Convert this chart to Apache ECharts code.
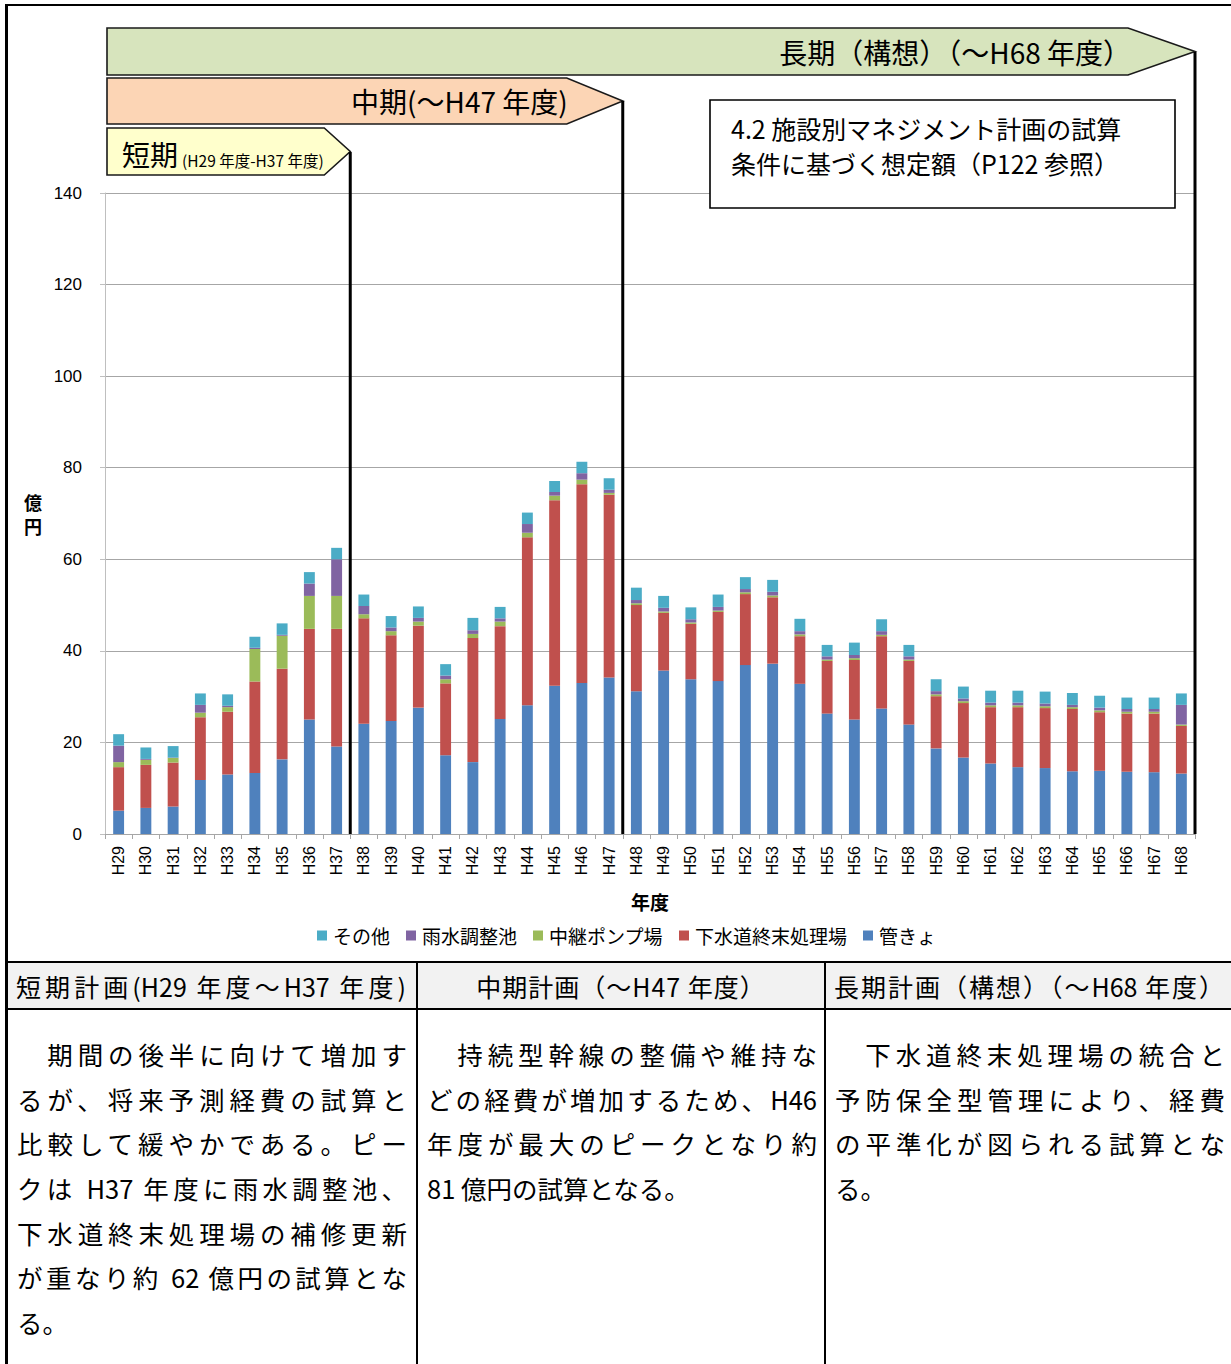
<!DOCTYPE html>
<html lang="ja">
<head>
<meta charset="utf-8">
<title>施設別マネジメント計画の想定額</title>
<script src="https://cdn.jsdelivr.net/npm/echarts@6/dist/echarts.min.js"></script>
<style>
  html, body { margin: 0; padding: 0; background: #fff; }
  body { width: 1231px; height: 1364px; position: relative; overflow: hidden;
         font-family: "Noto Sans CJK JP", "Noto Sans", sans-serif; color: #000; }
  #chart { position: absolute; left: 0; top: 0; width: 1231px; height: 962px; }
  .frame { position: absolute; left: 5px; top: 4px; width: 1300px; height: 1400px;
           border-left: 3px solid #000; border-top: 2px solid #000; pointer-events: none; }
  table.plan { position: absolute; left: 6px; top: 961px; border-collapse: collapse;
               table-layout: fixed; width: 1230px; }
  table.plan th, table.plan td { border: 2px solid #000; padding: 0; vertical-align: top; }
  table.plan th { background: #f2f2f2; font-weight: normal; font-size: 25px; height: 45px;
                  vertical-align: middle; }
  table.plan td { height: 360px; padding-top: 22px; }
  .hd { width: 390px; margin-left: 8px; text-align: justify; text-align-last: justify; white-space: nowrap; }
  .hd.c { text-align: center; text-align-last: center; letter-spacing: 1px; margin-left: 0; width: 100%; }
  .ln { width: 390px; margin-left: 9px; font-size: 25.5px; line-height: 44.7px; height: 44.7px;
        text-align: justify; text-align-last: justify; white-space: nowrap; }
  .ln.last { text-align: left; text-align-last: left; }
</style>
</head>
<body>
<div id="chart"></div>
<table class="plan">
  <colgroup><col style="width:410px"><col style="width:408px"><col style="width:412px"></colgroup>
  <tr>
    <th><div class="hd">短期計画(H29 年度〜H37 年度)</div></th>
    <th><div class="hd c">中期計画（〜H47 年度）</div></th>
    <th><div class="hd">長期計画（構想）（〜H68 年度）</div></th>
  </tr>
  <tr>
    <td>
      <div class="ln">　期間の後半に向けて増加す</div>
      <div class="ln">るが、将来予測経費の試算と</div>
      <div class="ln">比較して緩やかである。ピー</div>
      <div class="ln">クは H37 年度に雨水調整池、</div>
      <div class="ln">下水道終末処理場の補修更新</div>
      <div class="ln">が重なり約 62 億円の試算とな</div>
      <div class="ln last">る。</div>
    </td>
    <td>
      <div class="ln">　持続型幹線の整備や維持な</div>
      <div class="ln">どの経費が増加するため、H46</div>
      <div class="ln">年度が最大のピークとなり約</div>
      <div class="ln last">81 億円の試算となる。</div>
    </td>
    <td>
      <div class="ln">　下水道終末処理場の統合と</div>
      <div class="ln">予防保全型管理により、経費</div>
      <div class="ln">の平準化が図られる試算とな</div>
      <div class="ln last">る。</div>
    </td>
  </tr>
</table>
<div class="frame"></div>
<script>
// 年度（平成）
const years = ['H29','H30','H31','H32','H33','H34','H35','H36','H37',
  'H38','H39','H40','H41','H42','H43','H44','H45','H46','H47',
  'H48','H49','H50','H51','H52','H53','H54','H55','H56','H57','H58',
  'H59','H60','H61','H62','H63','H64','H65','H66','H67','H68'];

// 施設別の想定額（億円）
const kankyo = [5.1,5.7,6.0,11.8,13.0,13.3,16.3,25.0,19.1,
  24.1,24.7,27.6,17.2,15.7,25.1,28.1,32.4,33.0,34.2,
  31.2,35.7,33.8,33.4,36.9,37.2,32.8,26.3,25.0,27.4,23.9,
  18.7,16.7,15.4,14.6,14.4,13.7,13.8,13.6,13.5,13.2];
const shorijo = [9.5,9.4,9.6,13.7,13.7,20.0,19.8,19.8,25.7,
  23.0,18.7,17.9,15.7,27.1,20.3,36.7,40.5,43.4,39.9,
  18.8,12.6,12.1,15.1,15.5,14.5,10.4,11.5,13.0,15.8,13.9,
  11.4,11.9,12.3,13.1,13.1,13.6,12.8,12.7,12.8,10.4];
const pump = [1.1,1.1,1.0,1.0,1.0,7.1,7.2,7.2,7.2,
  0.9,0.9,0.9,0.9,0.9,1.0,1.0,1.0,1.0,0.4,
  0.4,0.3,0.3,0.3,0.4,0.4,0.4,0.3,0.4,0.3,0.3,
  0.4,0.4,0.4,0.4,0.4,0.4,0.4,0.4,0.4,0.3];
const usui = [3.6,0.2,0.1,1.7,0.3,0.3,0.2,2.7,8.0,
  1.8,0.8,0.8,0.8,0.8,0.7,1.9,0.8,1.4,0.7,
  0.7,0.8,0.7,0.8,0.7,0.8,0.7,0.7,0.7,0.8,0.7,
  0.7,0.6,0.6,0.6,0.6,0.5,0.6,0.6,0.6,4.3];
const sonota = [2.5,2.5,2.5,2.5,2.5,2.4,2.5,2.5,2.5,
  2.5,2.5,2.5,2.5,2.7,2.5,2.5,2.4,2.5,2.5,
  2.7,2.6,2.6,2.7,2.6,2.6,2.7,2.5,2.7,2.6,2.5,
  2.6,2.6,2.6,2.6,2.6,2.6,2.6,2.5,2.5,2.5];

// 積み上げ順（下から）と凡例順
const seriesNames = ['管きょ','下水道終末処理場','中継ポンプ場','雨水調整池','その他'];
const seriesData = [kankyo, shorijo, pump, usui, sonota];
const seriesColors = ['#4f81bd','#c0504d','#9bbb59','#8064a2','#4bacc6'];
const legendOrder = ['その他','雨水調整池','中継ポンプ場','下水道終末処理場','管きょ'];

// 計画期間の区切り（最終年度のインデックス）
const periodEnd = { short: 8, mid: 18, long: 39 };

const CJK = '"Noto Sans CJK JP", sans-serif';
const LAT = '"Liberation Sans", Arial, sans-serif';

const chart = echarts.init(document.getElementById('chart'), null, { renderer: 'svg' });

chart.setOption({
  animation: false,
  backgroundColor: 'transparent',
  grid: { left: 105, right: 36, top: 193, bottom: 128 },
  legend: {
    data: legendOrder,
    left: 312, top: 921,
    icon: 'rect', itemWidth: 10, itemHeight: 10, itemGap: 16,
    textStyle: { fontFamily: CJK, fontSize: 19, color: '#000', padding: [0, 0, 0, 1] }
  },
  xAxis: {
    type: 'category',
    data: years,
    name: '年度',
    nameLocation: 'middle',
    nameGap: 58,
    nameTextStyle: { fontFamily: CJK, fontSize: 19, fontWeight: 'bold', color: '#000' },
    axisLine: { lineStyle: { color: '#a6a6a6', width: 1 } },
    axisTick: { show: true, length: 5, lineStyle: { color: '#a6a6a6' } },
    axisLabel: { rotate: 90, margin: 12, fontFamily: LAT, fontSize: 16, color: '#000' }
  },
  yAxis: {
    type: 'value',
    min: 0, max: 140, interval: 20,
    name: '億\n円',
    nameLocation: 'middle',
    nameRotate: 0,
    nameGap: 63,
    nameTextStyle: { fontFamily: CJK, fontSize: 18, fontWeight: 'bold', color: '#000', lineHeight: 24 },
    axisLine: { show: true, lineStyle: { color: '#bfbfbf', width: 1 } },
    axisTick: { show: true, length: 5, lineStyle: { color: '#bfbfbf' } },
    axisLabel: { margin: 23, fontFamily: LAT, fontSize: 17, color: '#000' },
    splitLine: { lineStyle: { color: '#a6a6a6', width: 1 } }
  },
  series: seriesNames.map((name, i) => ({
    name: name,
    type: 'bar',
    stack: 'total',
    barWidth: '40%',
    data: seriesData[i],
    itemStyle: { color: seriesColors[i] }
  }))
});

// 計画期間の帯と区切り線を、軸の位置から配置する
const c0 = chart.convertToPixel({ xAxisIndex: 0 }, years[0]);
const c1 = chart.convertToPixel({ xAxisIndex: 0 }, years[1]);
const band = c1 - c0;
const edge = i => c0 - band / 2 + i * band;
const yBase = chart.convertToPixel({ yAxisIndex: 0 }, 0);
const left = edge(0) + 2;

const xShort = edge(periodEnd.short + 1);
const xMid = edge(periodEnd.mid + 1);
const xLong = edge(periodEnd.long + 1);

function arrowBanner(x1, top, bottom, tipW, fill) {
  const mid = (top + bottom) / 2;
  return {
    type: 'polygon',
    z: 100,
    shape: { points: [[left, top], [x1 - tipW, top], [x1, mid], [x1 - tipW, bottom], [left, bottom]] },
    style: { fill: fill, stroke: '#1a1a1a', lineWidth: 1.6 }
  };
}
function vline(x, y1) {
  return {
    type: 'line', z: 101,
    shape: { x1: x, y1: y1, x2: x, y2: yBase },
    style: { stroke: '#000', lineWidth: 3 }
  };
}

chart.setOption({
  graphic: [
    arrowBanner(xLong, 28, 75, 67, '#d7e4bd'),
    arrowBanner(xMid, 78, 124, 56, '#fcd5b5'),
    arrowBanner(xShort, 128, 175, 26, '#ffffcc'),
    vline(xShort, 152), vline(xMid, 101), vline(xLong, 52),
    {
      type: 'text', z: 102,
      style: { x: xLong - 64, y: 52, text: '長期（構想）（〜H68 年度）', align: 'right',
               verticalAlign: 'middle', font: '28px ' + CJK, fill: '#000' }
    },
    {
      type: 'text', z: 102,
      style: { x: xMid - 55, y: 101, text: '中期(〜H47 年度)', align: 'right',
               verticalAlign: 'middle', font: '28px ' + CJK, fill: '#000' }
    },
    {
      type: 'text', z: 102,
      style: { x: left + 15, y: 154, text: '短期', align: 'left',
               verticalAlign: 'middle', font: '28px ' + CJK, fill: '#000' }
    },
    {
      type: 'text', z: 102,
      style: { x: left + 75, y: 160, text: '(H29 年度-H37 年度)', align: 'left',
               verticalAlign: 'middle', font: '15.5px ' + CJK, fill: '#000' }
    },
    {
      type: 'rect', z: 102,
      shape: { x: 710, y: 100, width: 465, height: 108 },
      style: { fill: '#fff', stroke: '#000', lineWidth: 1.6 }
    },
    {
      type: 'text', z: 103,
      style: { x: 731, y: 110, text: '4.2 施設別マネジメント計画の試算\n条件に基づく想定額（P122 参照）',
               align: 'left', verticalAlign: 'top', lineHeight: 35,
               font: '25px ' + CJK, fill: '#000' }
    }
  ]
});
</script>
</body>
</html>
